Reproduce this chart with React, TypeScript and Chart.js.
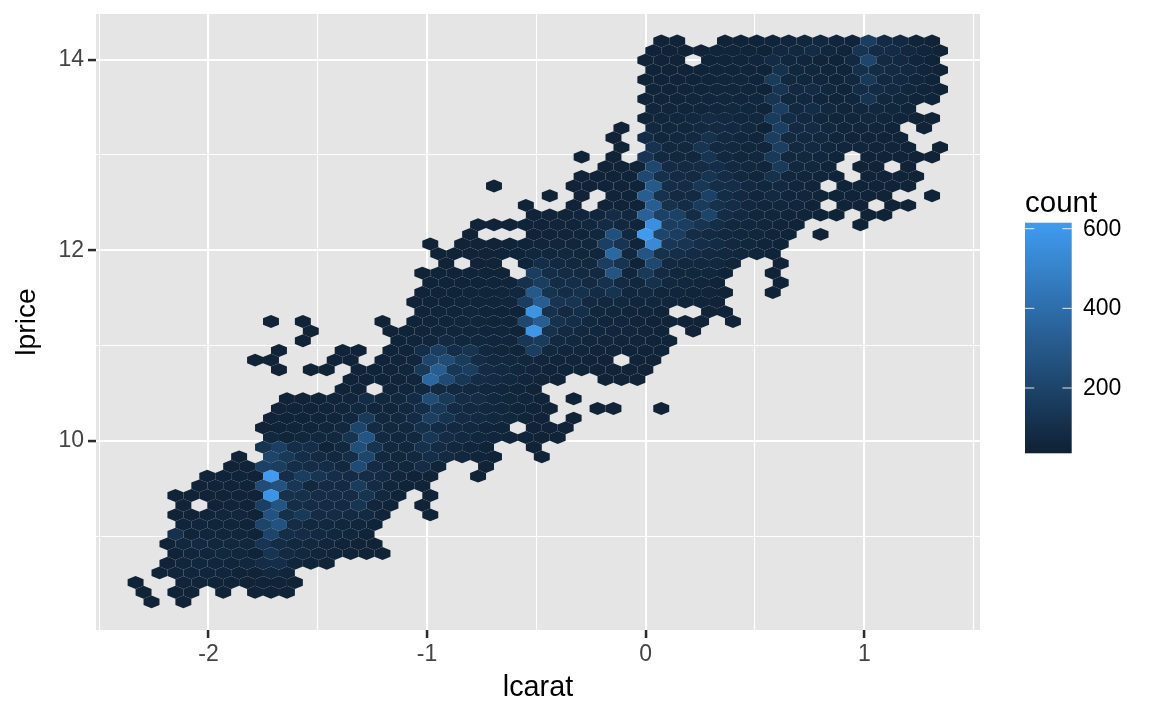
import React, { useEffect, useRef } from "react";
import { Chart, registerables, PointElement, ScatterController } from "chart.js";

const FONT = "'Liberation Sans', Arial, sans-serif";

const xTicks = [-2, -1, 0, 1];
const yTicks = [10, 12, 14];
const legendTicks = [200, 400, 600];
const countMin = 36;
const countMax = 615;

// hexbin grid in data units
const xOrigin = -2.3335;
const xStep = 0.07287;
const yTop = 14.196;
const yStep = 0.10144;

// each row: first column, then counts per column (0 = empty cell)
const row00 = [33, 45,45,0,0,45,50,50,55,60,65,70,60,55,170,85,75,55,45];
const row01 = [32, 50,45,45,45,55,55,55,50,70,70,85,65,55,130,90,85,70,60,45];
const row02 = [32, 45,45,45,0,50,55,55,60,85,65,60,55,50,75,210,80,75,60,50];
const row03 = [32, 50,50,50,50,55,55,55,50,110,65,65,60,55,105,95,80,75,60,45];
const row04 = [32, 45,50,50,50,55,60,60,55,160,70,65,60,55,70,150,75,75,60,50];
const row05 = [32, 55,50,55,55,60,60,60,50,130,75,85,65,55,90,85,75,65,55,45];
const row06 = [32, 50,55,55,60,60,65,60,65,130,70,70,60,55,65,130,70,65,55,50];
const row07 = [32, 60,60,60,60,65,70,65,55,170,75,95,70,60,65,70,65,55];
const row08 = [32, 55,65,65,70,85,75,65,70,160,95,75,65,60,60,70,60,55,45,45];
const row09 = [30, 45,0,70,65,65,75,80,75,70,50,180,80,85,70,60,60,60,50,0,45];
const row10 = [30, 45,0,85,65,70,75,110,75,65,60,170,80,75,70,60,55,55,50,45];
const row11 = [30, 45,0,115,70,70,125,75,70,65,60,175,75,75,65,60,60,55,55,50,0,45];
const row12 = [28, 45,0,45,0,130,75,70,70,130,70,65,70,150,70,70,65,55,0,50,50,50,45,45];
const row13 = [29, 45,45,45,215,85,80,90,100,75,70,60,155,70,70,55,0,45,45,0,45];
const row14 = [28, 45,50,50,50,220,105,85,80,130,90,70,60,110,65,60,55,50,0,50,50,50,45];
const row15 = [22, 45,0,0,0,0,45,45,50,50,50,300,100,90,140,100,100,75,65,75,60,55,0,50,50,50,50,45];
const row16 = [26, 45,0,45,0,50,50,320,115,80,80,190,95,75,60,75,60,60,55,50,50,50,45,0,0,45];
const row17 = [24, 45,0,0,45,0,45,50,50,320,110,90,160,110,90,70,60,65,60,50,0,50,45,0,45,45];
const row18 = [25, 45,55,55,60,60,90,70,340,190,190,90,200,90,75,60,60,55,55,50,45,0,45,45];
const row19 = [21, 45,45,45,50,50,55,55,65,85,70,55,560,170,170,130,100,70,65,60,55,50,0,0,0,45];
const row20 = [21, 45,0,0,0,50,50,55,55,65,260,70,615,210,170,90,80,70,65,60,55,50,0,45];
const row21 = [18, 45,0,45,45,45,50,50,55,60,60,65,180,130,55,530,140,130,100,85,70,65,55,50];
const row22 = [19, 45,45,45,45,50,50,65,65,70,65,60,370,70,280,110,100,85,75,70,60,55,50];
const row23 = [19, 45,0,45,45,0,50,100,75,70,70,170,120,50,220,75,70,70,70,55,0,0,45];
const row24 = [18, 45,50,50,50,50,45,0,170,100,85,80,75,280,60,150,80,65,65,65,50,0,0,45];
const row25 = [18, 50,50,50,50,55,55,110,170,95,100,80,110,80,65,110,70,65,60,50,0,0,0,45];
const row26 = [18, 45,50,50,55,55,60,65,300,120,90,110,85,120,65,75,60,60,55,55,45,0,0,45];
const row27 = [17, 45,50,50,55,55,55,60,170,320,130,130,75,70,70,60,65,60,55,55,45];
const row28 = [18, 50,55,55,60,55,50,50,580,110,80,100,65,65,55,55,45,0,0,45,45];
const row29 = [8, 45,0,45,0,0,0,0,45,0,50,55,55,60,60,55,55,220,320,110,100,70,60,60,55,50,50,45,45,0,45];
const row30 = [11, 45,0,0,0,0,45,50,55,60,60,60,60,60,50,590,110,80,70,65,60,60,55,50,0,45];
const row31 = [10, 45,0,0,0,0,0,50,55,60,80,65,65,60,60,140,160,75,70,60,60,55,55,50,50];
const row32 = [9, 45,0,0,0,45,45,0,50,55,100,170,100,120,70,60,55,170,70,60,60,55,55,50,50,50];
const row33 = [7, 45,45,0,0,0,45,45,0,50,55,60,210,240,160,90,70,70,65,60,55,55,50,45,0,45,45];
const row34 = [9, 45,0,45,45,0,50,50,55,60,150,320,140,170,85,75,65,60,50,50,50,45,45,45,45];
const row35 = [13, 50,50,50,55,60,370,230,140,90,80,70,60,55,45,0,0,45,45,45];
const row36 = [13, 50,50,0,55,60,70,80,75,70,65,60,55,45];
const row37 = [9, 45,45,50,55,60,95,70,70,85,240,150,90,90,70,65,60,50,0,45];
const row38 = [9, 45,50,50,55,60,70,60,60,70,100,150,85,75,70,65,55,50,45,0,0,45,45,0,0,45];
const row39 = [8, 45,50,50,55,55,65,150,70,70,85,175,120,85,80,70,65,55,50,0,45];
const row40 = [8, 45,50,55,55,60,70,200,85,70,70,105,85,75,70,60,55,0,50,45,45];
const row41 = [8, 70,55,65,70,70,120,280,75,65,70,140,90,75,65,60,55,50,45,45];
const row42 = [8, 120,180,100,100,50,70,250,120,70,65,110,85,70,60,50,0,0,45];
const row43 = [6, 45,0,200,150,100,80,70,100,210,70,65,70,100,80,65,55,50,0,0,45];
const row44 = [6, 45,45,190,170,100,90,90,70,230,85,65,65,90,55,0,0,45];
const row45 = [4, 45,50,50,45,610,100,170,130,100,85,90,80,60,50,45,0,0,45];
const row46 = [4, 45,50,50,50,240,270,140,70,85,80,160,85,60,50,45];
const row47 = [2, 45,45,45,45,50,45,580,110,105,90,90,90,120,70,50,0,45];
const row48 = [3, 45,0,50,55,45,180,280,100,90,85,80,130,60,50,0,45];
const row49 = [2, 45,45,55,60,60,45,270,105,150,85,85,80,80,55,0,0,45];
const row50 = [3, 55,60,55,55,50,200,270,90,70,70,65,60,50];
const row51 = [2, 110,55,60,60,60,50,200,100,90,75,65,65,50];
const row52 = [2, 45,70,75,65,70,65,130,90,70,70,60,50,45,45];
const row53 = [2, 50,60,60,70,65,50,130,80,70,60,55,50,45,45];
const row54 = [2, 45,60,65,60,60,65,90,100,60,50,45];
const row55 = [1, 45,55,60,60,60,50,45,70,60];
const row56 = [0, 45,0,0,55,55,50,50,45,50,45,45];
const row57 = [0, 45,0,45,45,0,45,0,45,45,45];
const row58 = [1, 45,0,45];

const rows = [
  row00,row01,row02,row03,row04,row05,row06,row07,row08,row09,
  row10,row11,row12,row13,row14,row15,row16,row17,row18,row19,
  row20,row21,row22,row23,row24,row25,row26,row27,row28,row29,
  row30,row31,row32,row33,row34,row35,row36,row37,row38,row39,
  row40,row41,row42,row43,row44,row45,row46,row47,row48,row49,
  row50,row51,row52,row53,row54,row55,row56,row57,row58,
];

const hexes: { x: number; y: number; v: number }[] = [];
rows.forEach((row, r) => {
  const start = row[0];
  row.slice(1).forEach((v, i) => {
    if (v > 0) {
      const c = start + i;
      hexes.push({ x: xOrigin + (c + (r % 2 ? 0.5 : 0)) * xStep, y: yTop - r * yStep, v });
    }
  });
});

const LOW = [15, 33, 52];
const HIGH = [64, 155, 240];
function countColor(v: number) {
  const t = Math.max(0, Math.min(1, (v - countMin) / (countMax - countMin)));
  const c = LOW.map((l, i) => Math.round(l + (HIGH[i] - l) * t));
  return `rgb(${c[0]},${c[1]},${c[2]})`;
}

const HEX_HALF_W = 7.97;
const HEX_R = 6.45;

class HexElement extends PointElement {
  static id = "hexagon";
  static defaults = { ...PointElement.defaults };
  static defaultRoutes = PointElement.defaultRoutes;
  draw(ctx: CanvasRenderingContext2D) {
    const { x, y } = this as any;
    ctx.save();
    ctx.fillStyle = (this as any).options.backgroundColor;
    ctx.beginPath();
    ctx.moveTo(x, y - HEX_R);
    ctx.lineTo(x + HEX_HALF_W, y - HEX_R / 2);
    ctx.lineTo(x + HEX_HALF_W, y + HEX_R / 2);
    ctx.lineTo(x, y + HEX_R);
    ctx.lineTo(x - HEX_HALF_W, y + HEX_R / 2);
    ctx.lineTo(x - HEX_HALF_W, y - HEX_R / 2);
    ctx.closePath();
    ctx.fill();
    ctx.restore();
  }
}

class HexController extends ScatterController {
  static id = "hexbin";
  static defaults = { ...ScatterController.defaults, dataElementType: "hexagon" };
}

Chart.register(...registerables, HexElement as any, HexController as any);

const panelPlugin = {
  id: "panelAndLegend",
  beforeDraw(chart: any) {
    const { ctx, chartArea: a } = chart;
    ctx.save();
    ctx.fillStyle = "#ffffff";
    ctx.fillRect(0, 0, chart.width, chart.height);
    ctx.fillStyle = "#E5E5E5";
    ctx.fillRect(a.left, a.top, a.right - a.left, a.bottom - a.top);
    ctx.restore();
  },
  afterDraw(chart: any) {
    const { ctx } = chart;
    const barL = 1025, barR = 1071.7, barT = 222.7, barB = 453.3;
    const perCount = 79.65 / 200;
    const y600 = 228.7;
    ctx.save();
    const g = ctx.createLinearGradient(0, barB, 0, barT);
    for (let i = 0; i <= 10; i++) {
      g.addColorStop(i / 10, countColor(countMin + ((countMax - countMin) * i) / 10));
    }
    ctx.fillStyle = g;
    ctx.fillRect(barL, barT, barR - barL, barB - barT);
    ctx.fillStyle = "#000000";
    ctx.textBaseline = "alphabetic";
    ctx.textAlign = "left";
    ctx.font = `29.5px ${FONT}`;
    ctx.fillText("count", barL, 212);
    ctx.font = `23px ${FONT}`;
    ctx.textBaseline = "middle";
    legendTicks.forEach((t) => {
      const y = y600 + (600 - t) * perCount;
      ctx.fillStyle = "#000000";
      ctx.fillText(String(t), 1083, y + 0.5);
      ctx.fillStyle = "rgba(255,255,255,0.85)";
      ctx.fillRect(barL, y - 0.5, 9.3, 1);
      ctx.fillRect(barR - 9.3, y - 0.5, 9.3, 1);
    });
    ctx.restore();
  },
};

const tickLabel = (major: number[]) => (v: any) => (major.includes(Number(v)) ? String(v) : "");

export default function App() {
  const ref = useRef<HTMLCanvasElement>(null);
  useEffect(() => {
    const chart = new Chart(ref.current as HTMLCanvasElement, {
      type: "hexbin" as any,
      plugins: [panelPlugin],
      data: {
        datasets: [
          {
            data: hexes as any,
            backgroundColor: (c: any) => countColor(c.raw ? c.raw.v : countMin),
            showLine: false,
          } as any,
        ],
      },
      options: {
        animation: false,
        responsive: false,
        devicePixelRatio: 1,
        layout: { padding: { left: 0, top: 14, right: 172, bottom: 0 } },
        plugins: { legend: { display: false }, tooltip: { enabled: false } },
        scales: {
          x: {
            type: "linear",
            min: -2.5146,
            max: 1.5293,
            afterFit: (s: any) => { s.height = 81; s.paddingLeft = 0; s.paddingRight = 0; },
            border: { display: false },
            grid: {
              color: "#ffffff",
              lineWidth: (c: any) => (xTicks.includes(c.tick?.value) ? 2.1 : 1.05),
              tickColor: (c: any) => (xTicks.includes(c.tick?.value) ? "#2b2b2b" : "rgba(0,0,0,0)"),
              tickWidth: 2.5,
              tickLength: 8,
            },
            ticks: {
              stepSize: 0.5,
              includeBounds: false,
              autoSkip: false,
              maxRotation: 0,
              padding: 3,
              color: "#444444",
              font: { family: FONT, size: 23 },
              callback: tickLabel(xTicks),
            },
            title: {
              display: true,
              text: "lcarat",
              color: "#000000",
              font: { family: FONT, size: 28.8 },
              padding: { top: 0, bottom: 5.7 },
            },
          },
          y: {
            type: "linear",
            min: 8.0177,
            max: 14.479,
            afterFit: (s: any) => { s.width = 96; s.paddingTop = 0; s.paddingBottom = 0; },
            border: { display: false },
            grid: {
              color: "#ffffff",
              lineWidth: (c: any) => (yTicks.includes(c.tick?.value) ? 2.1 : 1.05),
              tickColor: (c: any) => (yTicks.includes(c.tick?.value) ? "#2b2b2b" : "rgba(0,0,0,0)"),
              tickWidth: 2.5,
              tickLength: 8,
            },
            ticks: {
              stepSize: 1,
              includeBounds: false,
              autoSkip: false,
              padding: 4,
              color: "#444444",
              font: { family: FONT, size: 23 },
              callback: tickLabel(yTicks),
            },
            title: {
              display: true,
              text: "lprice",
              color: "#000000",
              font: { family: FONT, size: 28.2 },
              padding: { top: 10, bottom: 0 },
            },
          },
        },
      } as any,
    });
    return () => chart.destroy();
  }, []);
  return (
    <canvas
      ref={ref}
      width={1152}
      height={711}
      style={{ position: "fixed", left: 0, top: 0, display: "block" }}
    />
  );
}
